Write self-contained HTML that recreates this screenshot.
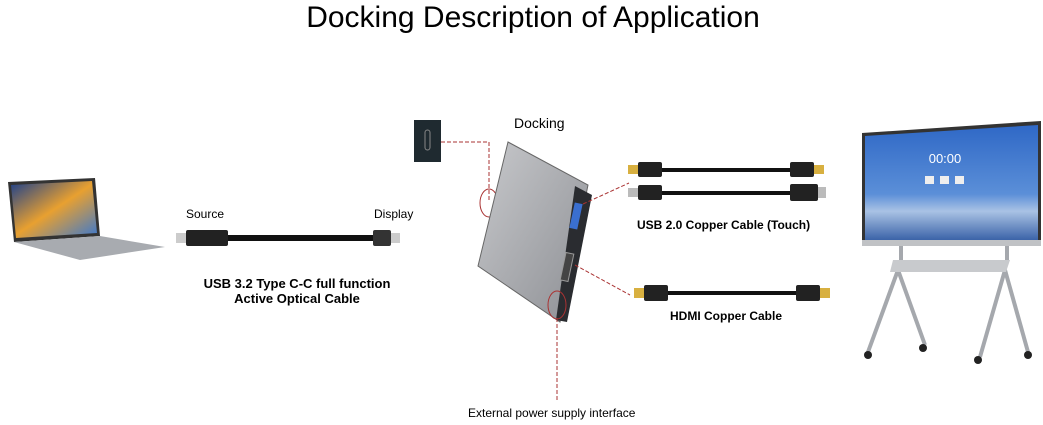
<!DOCTYPE html>
<html><head><meta charset="utf-8"><style>
body{margin:0;background:#fff;width:1043px;height:425px;overflow:hidden}
svg{display:block}
text{font-family:"Liberation Sans",sans-serif}
</style></head><body>
<svg width="1043" height="425" viewBox="0 0 1043 425">
<defs>
<linearGradient id="scr" x1="0" y1="0" x2="0" y2="1"><stop offset="0" stop-color="#2f68c6"/><stop offset="0.6" stop-color="#5b8fd8"/><stop offset="0.75" stop-color="#a9c2e4"/><stop offset="1" stop-color="#3b63a8"/></linearGradient>
<linearGradient id="lap" x1="0" y1="0" x2="1" y2="1"><stop offset="0" stop-color="#1b3f8c"/><stop offset="0.5" stop-color="#e8a030"/><stop offset="1" stop-color="#3a78d0"/></linearGradient>
<linearGradient id="dock" x1="0" y1="0" x2="1" y2="1"><stop offset="0" stop-color="#c8c9cc"/><stop offset="1" stop-color="#8d8f94"/></linearGradient>
</defs>
<text x="533" y="27" font-size="30" text-anchor="middle" fill="#000">Docking Description of Application</text>
<!-- laptop -->
<polygon points="8,182 95,178 100,236 14,242" fill="#333"/>
<polygon points="11,185 92,181 97,233 16,238" fill="url(#lap)"/>
<polygon points="14,242 100,236 165,247 80,260" fill="#a8abb0"/>
<!-- C-C cable -->
<text x="186" y="218" font-size="12">Source</text>
<text x="374" y="218" font-size="12">Display</text>
<rect x="176" y="233" width="10" height="10" fill="#ccc"/>
<rect x="186" y="230" width="42" height="16" rx="2" fill="#222"/>
<rect x="228" y="235" width="145" height="6" fill="#111"/>
<rect x="373" y="230" width="18" height="16" rx="2" fill="#333"/>
<rect x="391" y="233" width="9" height="10" fill="#ccc"/>
<text x="297" y="288" font-size="13" font-weight="bold" text-anchor="middle">USB 3.2 Type C-C full function</text>
<text x="297" y="303" font-size="13" font-weight="bold" text-anchor="middle">Active Optical Cable</text>
<!-- port box -->
<rect x="414" y="120" width="27" height="42" fill="#1f2a30"/>
<rect x="425" y="130" width="5" height="20" rx="2.5" fill="none" stroke="#888"/>
<polyline points="441,142 489,142 489,200" fill="none" stroke="#a33" stroke-dasharray="4,2"/>
<ellipse cx="489" cy="203" rx="9" ry="14" fill="none" stroke="#a33"/>
<text x="514" y="128" font-size="14">Docking</text>
<!-- dock -->
<polygon points="508,142 588,185 560,322 478,266" fill="url(#dock)" stroke="#666"/>
<polygon points="575,186 592,195 567,322 556,320" fill="#2a2c30"/>
<rect x="572" y="203" width="8" height="26" fill="#3a6fd0" transform="rotate(12 576 216)"/>
<rect x="563" y="253" width="8" height="28" fill="#444" stroke="#999" transform="rotate(12 567 267)"/>
<ellipse cx="557" cy="305" rx="9" ry="14" fill="none" stroke="#a33"/>
<line x1="557" y1="318" x2="557" y2="400" stroke="#a33" stroke-dasharray="4,2"/>
<line x1="583" y1="204" x2="629" y2="183" stroke="#a33" stroke-dasharray="4,2"/>
<line x1="575" y1="265" x2="630" y2="295" stroke="#a33" stroke-dasharray="4,2"/>
<text x="468" y="417" font-size="12">External power supply interface</text>
<!-- USB cables -->
<g>
<rect x="628" y="165" width="10" height="9" fill="#d8b040"/><rect x="638" y="162" width="24" height="15" rx="2" fill="#222"/>
<rect x="662" y="168" width="128" height="4" fill="#111"/>
<rect x="790" y="162" width="24" height="15" rx="2" fill="#222"/><rect x="814" y="165" width="10" height="9" fill="#d8b040"/>
<rect x="628" y="188" width="10" height="9" fill="#bbb"/><rect x="638" y="185" width="24" height="15" rx="2" fill="#222"/>
<rect x="662" y="191" width="128" height="4" fill="#111"/>
<rect x="790" y="184" width="28" height="17" rx="2" fill="#222"/><rect x="818" y="187" width="8" height="11" fill="#bbb"/>
</g>
<text x="637" y="229" font-size="12" font-weight="bold">USB 2.0 Copper Cable (Touch)</text>
<!-- HDMI -->
<rect x="634" y="288" width="10" height="10" fill="#d8b040"/><rect x="644" y="285" width="24" height="16" rx="2" fill="#222"/>
<rect x="668" y="291" width="128" height="4" fill="#111"/>
<rect x="796" y="285" width="24" height="16" rx="2" fill="#222"/><rect x="820" y="288" width="10" height="10" fill="#d8b040"/>
<text x="670" y="320" font-size="12" font-weight="bold">HDMI Copper Cable</text>
<!-- TV -->
<polygon points="862,133 1041,121 1041,246 862,246" fill="#333"/>
<polygon points="865,136 1038,125 1038,240 865,240" fill="url(#scr)"/>
<rect x="862" y="240" width="179" height="6" fill="#c0c2c5"/>
<text x="945" y="163" font-size="13" fill="#fff" text-anchor="middle">00:00</text>
<rect x="925" y="176" width="9" height="8" fill="#eee"/><rect x="940" y="176" width="9" height="8" fill="#eee"/><rect x="955" y="176" width="9" height="8" fill="#eee"/>
<g stroke="#a5a8ad" stroke-width="4" fill="none">
<line x1="901" y1="246" x2="901" y2="262"/><line x1="1007" y1="246" x2="1007" y2="262"/>
<line x1="898" y1="270" x2="868" y2="352"/><line x1="898" y1="270" x2="925" y2="345"/>
<line x1="1005" y1="270" x2="980" y2="357"/><line x1="1005" y1="270" x2="1028" y2="352"/>
</g>
<polygon points="893,260 1010,260 1006,272 890,272" fill="#c8cacd"/>
<g fill="#222"><circle cx="868" cy="355" r="4"/><circle cx="923" cy="348" r="4"/><circle cx="978" cy="360" r="4"/><circle cx="1028" cy="355" r="4"/></g>
</svg>
</body></html>
